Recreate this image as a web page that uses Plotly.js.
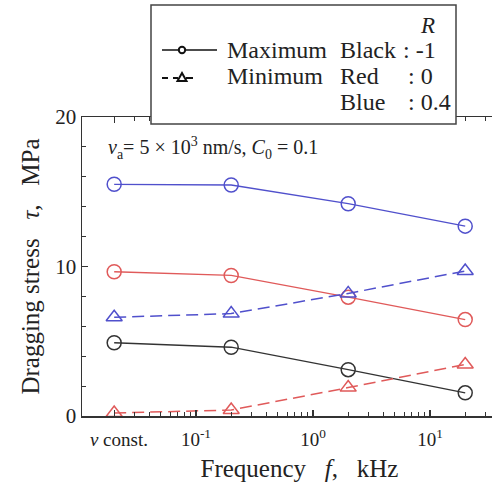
<!DOCTYPE html>
<html>
<head>
<meta charset="utf-8">
<script src="https://cdn.plot.ly/plotly-3.0.1.min.js"></script>
<style>html,body{margin:0;padding:0;background:#fff;}</style>
</head>
<body>
<div id="chart" style="width:495px;height:483px;"></div>
<script>
// Data (frequency in kHz; "v const." plotted at 0.02)
const freq = [0.02, 0.2, 2, 20];
const xTickVals = [0.02, 0.1, 1, 10];
const xTickText = ['&nbsp;&nbsp;<i>v</i> const.', '10<sup>-1</sup>', '10<sup>0</sup>', '10<sup>1</sup>'];
const blackMax = [4.9, 4.6, 3.1, 1.55];
const redMax = [9.65, 9.4, 7.95, 6.45];
const blueMax = [15.5, 15.45, 14.2, 12.7];
const redMin = [0.2, 0.4, 1.9, 3.45];
const blueMin = [6.6, 6.85, 8.2, 9.7];

const BLACK = '#333333', RED = '#e05a5a', BLUE = '#5050cc';
const FONT = 'Liberation Serif';

function maxTrace(y, c) {
  return {x: freq, y: y, type: 'scatter', mode: 'lines+markers', cliponaxis: false,
    line: {color: c, width: 1.3},
    marker: {symbol: 'circle-open', size: 14, color: c, line: {width: 1.5, color: c}}};
}
function minTrace(y, c) {
  return {x: freq, y: y, type: 'scatter', mode: 'lines+markers', cliponaxis: false,
    line: {color: c, width: 1.5, dash: '12px,6px'},
    marker: {symbol: 'triangle-up-open', size: 14, color: c, line: {width: 1.5, color: c}}};
}
const traces = [maxTrace(blackMax, BLACK), maxTrace(redMax, RED), maxTrace(blueMax, BLUE),
                minTrace(redMin, RED), minTrace(blueMin, BLUE)];

// minor ticks of log axis
const minorX = [];
[0.01, 0.1, 1, 10].forEach(d => { for (let k = 2; k <= 9; k++) { const v = k * d; if (v > 0.021 && v < 35) minorX.push(v); } });

// pixel -> paper helpers (plot area: x 82..492, y 117..416)
const L = 82, R = 492, T = 117, B = 416;
const px = x => (x - L) / (R - L);
const py = y => (B - y) / (B - T);

function ann(text, x, y, size, anchor) {
  return {text: text, x: px(x), y: py(y), xref: 'paper', yref: 'paper', xanchor: anchor || 'left', yanchor: 'middle',
    showarrow: false, font: {family: FONT, size: size, color: '#222'}};
}

const annotations = [
  ann('<i>v</i><sub>a</sub>= 5 × 10<sup>3</sup> nm/s, <i>C</i><sub>0</sub> = 0.1', 106, 148, 20),
  ann('<i>R</i>', 418, 25, 23),
  ann('Maximum', 225, 50, 24),
  ann('Black', 338, 50, 24),
  ann(': -1', 401, 50, 24),
  ann('Minimum', 225, 76, 24),
  ann('Red', 338, 76, 24),
  ann(': 0', 406, 76, 24),
  ann('Blue', 338, 102, 24),
  ann(': 0.4', 406, 102, 24)
];

const cx = 182, cyc = 50, r = 3.2;
const ty = 78;
const shapes = [
  {type: 'rect', xref: 'paper', yref: 'paper', x0: px(151), x1: px(456), y0: py(124), y1: py(5),
   line: {color: '#444', width: 1.5}, fillcolor: '#fff', layer: 'above'},
  {type: 'line', xref: 'paper', yref: 'paper', x0: px(162), x1: px(217), y0: py(cyc), y1: py(cyc), line: {color: '#111', width: 1.5}, layer: 'above'},
  {type: 'circle', xref: 'paper', yref: 'paper', x0: px(cx - r), x1: px(cx + r), y0: py(cyc + r), y1: py(cyc - r),
   line: {color: '#111', width: 2}, fillcolor: '#fff', layer: 'above'},
  {type: 'line', xref: 'paper', yref: 'paper', x0: px(162), x1: px(168), y0: py(ty), y1: py(ty), line: {color: '#111', width: 2}, layer: 'above'},
  {type: 'line', xref: 'paper', yref: 'paper', x0: px(173), x1: px(178), y0: py(ty), y1: py(ty), line: {color: '#111', width: 2}, layer: 'above'},
  {type: 'line', xref: 'paper', yref: 'paper', x0: px(186), x1: px(193), y0: py(ty), y1: py(ty), line: {color: '#111', width: 2}, layer: 'above'},
  {type: 'path', xref: 'paper', yref: 'paper', layer: 'above',
   path: 'M' + px(cx - 4.5) + ',' + py(ty + 3) + ' L' + px(cx + 4.5) + ',' + py(ty + 3) + ' L' + px(cx) + ',' + py(ty - 5) + ' Z',
   line: {color: '#111', width: 2}, fillcolor: '#fff'}
];

const layout = {
  width: 495, height: 483,
  margin: {l: L, r: 495 - R, t: T, b: 483 - B},
  paper_bgcolor: '#fff', plot_bgcolor: '#fff',
  showlegend: false,
  font: {family: FONT, color: '#222'},
  xaxis: {
    type: 'log', range: [-1.974, 1.53],
    showline: true, linecolor: BLACK, linewidth: 1.5, mirror: 'ticks',
    showgrid: false, zeroline: false,
    tickmode: 'array', tickvals: xTickVals, ticktext: xTickText,
    ticks: 'inside', ticklen: 6, tickwidth: 1.2, tickcolor: BLACK,
    tickfont: {family: FONT, size: 19, color: '#222'},
    ticklabelstandoff: 6,
    minor: {tickmode: 'array', tickvals: minorX, ticks: 'inside', ticklen: 4, tickwidth: 1, tickcolor: BLACK, showgrid: false},
    title: {text: '&nbsp;&nbsp;&nbsp;&nbsp;Frequency   <i>f</i>,   kHz', font: {family: FONT, size: 25, color: '#222'}, standoff: 10}
  },
  yaxis: {
    range: [0, 20],
    showline: true, linecolor: BLACK, linewidth: 1.5, mirror: false,
    showgrid: false, zeroline: false,
    tickmode: 'array', tickvals: [0, 10, 20],
    ticks: 'inside', ticklen: 6, tickwidth: 1.2, tickcolor: BLACK,
    tickfont: {family: FONT, size: 21, color: '#222'},
    minor: {dtick: 2, ticks: 'inside', ticklen: 4, tickwidth: 1, tickcolor: BLACK, showgrid: false},
    title: {text: 'Dragging stress   <i>τ</i>,   MPa', font: {family: FONT, size: 25, color: '#222'}, standoff: 8}
  },
  annotations: annotations,
  shapes: shapes
};

Plotly.newPlot('chart', traces, layout, {displayModeBar: false, staticPlot: true});
</script>
</body>
</html>
